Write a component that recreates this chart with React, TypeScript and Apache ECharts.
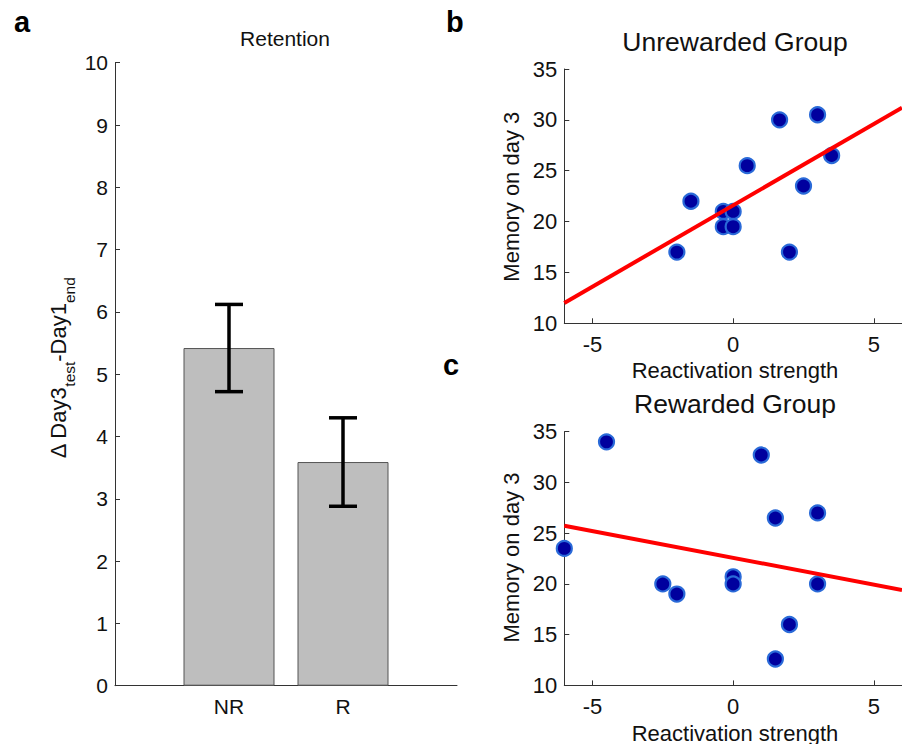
import React, { useEffect, useRef } from "react";
import * as echarts from "echarts";

// ---- Panel a: retention bars ----
const barCategories = ["NR", "R"];
const barPositions = [1, 2];
const barValues = [5.42, 3.59];
const barErrors = [0.7, 0.71];
const retentionTicks = [0, 1, 2, 3, 4, 5, 6, 7, 8, 9, 10];

// ---- Panel b: unrewarded group ----
const unrewardedX = [-2, -1.5, -0.35, -0.35, 0, 0, 0.5, 1.65, 3, 2.5, 3.5, 2];
const unrewardedY = [17, 22, 21, 19.5, 21, 19.5, 25.5, 30, 30.5, 23.5, 26.5, 17];
const unrewardedFitX = [-6, 6];
const unrewardedFitY = [12, 31.2];

// ---- Panel c: rewarded group ----
const rewardedX = [-6, -4.5, -2.5, -2, 0, 0, 1, 1.5, 3, 3, 2, 1.5];
const rewardedY = [23.5, 34, 20, 19, 20.7, 20, 32.7, 26.5, 27, 20, 16, 12.6];
const rewardedFitX = [-6, 6];
const rewardedFitY = [25.74, 19.4];

const scatterXTicks = [-5, 0, 5];

const FONT = "'Liberation Sans', Arial, Helvetica, sans-serif";
const AXIS_COLOR = "#333";

function zip(xs: number[], ys: number[]) {
  return xs.map((x, i) => [x, ys[i]]);
}

export default function App() {
  const ref = useRef<HTMLDivElement>(null);
  useEffect(() => {
    if (!ref.current) return;
    const chart = echarts.init(ref.current, undefined, { renderer: "svg" });

    const axisLineStyle = { lineStyle: { color: AXIS_COLOR, width: 1 } };

    const scatterX = (gridIndex: number) => ({
      type: "value",
      gridIndex,
      min: -6,
      max: 6,
      splitLine: { show: false },
      axisLine: { ...axisLineStyle, onZero: false },
      axisTick: { show: true, inside: true, length: 5, customValues: scatterXTicks, lineStyle: { color: AXIS_COLOR } },
      axisLabel: { customValues: scatterXTicks, fontSize: 22, color: "#111", fontFamily: FONT, margin: 10 },
    });
    const scatterY = (gridIndex: number) => ({
      type: "value",
      gridIndex,
      min: 10,
      max: 35,
      interval: 5,
      splitLine: { show: false },
      axisLine: { show: true, ...axisLineStyle, onZero: false },
      axisTick: { show: true, inside: true, length: 5, lineStyle: { color: AXIS_COLOR } },
      axisLabel: { fontSize: 22, color: "#111", fontFamily: FONT, margin: 7 },
    });

    const markerStyle = {
      color: "#00009e",
      borderColor: "#2a6ad8",
      borderWidth: 2.2,
      opacity: 1,
    };

    const option: any = {
      animation: false,
      backgroundColor: "#fff",
      grid: [
        { left: 115, top: 62.7, width: 342, height: 623 },
        { left: 564.3, top: 69, width: 342.3, height: 254.3 },
        { left: 564.3, top: 431.7, width: 342.3, height: 253.7 },
      ],
      xAxis: [
        {
          type: "value",
          gridIndex: 0,
          min: 0,
          max: 3,
          splitLine: { show: false },
          axisLine: { ...axisLineStyle, onZero: false },
          axisTick: { show: false },
          axisLabel: {
            customValues: barPositions,
            formatter: (v: number) => {
              const i = barPositions.indexOf(v);
              return i >= 0 ? barCategories[i] : "";
            },
            fontSize: 21,
            color: "#111",
            fontFamily: FONT,
            margin: 10,
          },
        },
        scatterX(1),
        scatterX(2),
      ],
      yAxis: [
        {
          type: "value",
          gridIndex: 0,
          min: retentionTicks[0],
          max: retentionTicks[retentionTicks.length - 1],
          interval: 1,
          splitLine: { show: false },
          axisLine: { show: true, ...axisLineStyle, onZero: false },
          axisTick: { show: true, inside: true, length: 5, lineStyle: { color: AXIS_COLOR } },
          axisLabel: { fontSize: 21, color: "#111", fontFamily: FONT, margin: 7 },
        },
        scatterY(1),
        scatterY(2),
      ],
      series: [
        {
          type: "bar",
          xAxisIndex: 0,
          yAxisIndex: 0,
          data: zip(barPositions, barValues),
          barWidth: 91,
          itemStyle: { color: "#bebebe", borderColor: "#555", borderWidth: 1 },
          z: 2,
        },
        {
          type: "custom",
          xAxisIndex: 0,
          yAxisIndex: 0,
          data: barPositions.map((x, i) => [x, barValues[i], barErrors[i]]),
          encode: { x: 0, y: 1 },
          z: 5,
          renderItem: (params: any, api: any) => {
            const x = api.value(0);
            const y = api.value(1);
            const e = api.value(2);
            const top = api.coord([x, y + e]);
            const bot = api.coord([x, y - e]);
            const hw = 14;
            const style = { stroke: "#000", lineWidth: 3.5 };
            return {
              type: "group",
              children: [
                { type: "line", shape: { x1: top[0], y1: top[1], x2: bot[0], y2: bot[1] }, style },
                { type: "line", shape: { x1: top[0] - hw, y1: top[1], x2: top[0] + hw, y2: top[1] }, style },
                { type: "line", shape: { x1: bot[0] - hw, y1: bot[1], x2: bot[0] + hw, y2: bot[1] }, style },
              ],
            };
          },
        },
        {
          type: "scatter",
          xAxisIndex: 1,
          yAxisIndex: 1,
          data: zip(unrewardedX, unrewardedY),
          symbolSize: 15,
          itemStyle: markerStyle,
          z: 2,
        },
        {
          type: "line",
          xAxisIndex: 1,
          yAxisIndex: 1,
          data: zip(unrewardedFitX, unrewardedFitY),
          showSymbol: false,
          symbol: "none",
          lineStyle: { color: "#ff0000", width: 4 },
          z: 4,
        },
        {
          type: "scatter",
          xAxisIndex: 2,
          yAxisIndex: 2,
          data: zip(rewardedX, rewardedY),
          symbolSize: 15,
          itemStyle: markerStyle,
          z: 2,
        },
        {
          type: "line",
          xAxisIndex: 2,
          yAxisIndex: 2,
          data: zip(rewardedFitX, rewardedFitY),
          showSymbol: false,
          symbol: "none",
          lineStyle: { color: "#ff0000", width: 4 },
          z: 4,
        },
      ],
      graphic: [
        { type: "text", left: 14, top: 7, style: { text: "a", fontSize: 29, fontWeight: "bold", fill: "#000", fontFamily: FONT } },
        { type: "text", left: 446, top: 7, style: { text: "b", fontSize: 29, fontWeight: "bold", fill: "#000", fontFamily: FONT } },
        { type: "text", left: 443, top: 350, style: { text: "c", fontSize: 29, fontWeight: "bold", fill: "#000", fontFamily: FONT } },
        { type: "text", x: 285, y: 38.5, style: { text: "Retention", fontSize: 21, fill: "#111", fontFamily: FONT, align: "center", verticalAlign: "middle" } },
        { type: "text", x: 735, y: 41.7, style: { text: "Unrewarded Group", fontSize: 26.5, fill: "#111", fontFamily: FONT, align: "center", verticalAlign: "middle" } },
        { type: "text", x: 735, y: 370, style: { text: "Reactivation strength", fontSize: 22, fill: "#111", fontFamily: FONT, align: "center", verticalAlign: "middle" } },
        { type: "text", x: 511.7, y: 196.7, rotation: Math.PI / 2, style: { text: "Memory on day 3", fontSize: 22, fill: "#111", fontFamily: FONT, align: "center", verticalAlign: "middle" } },
        { type: "text", x: 735, y: 404, style: { text: "Rewarded Group", fontSize: 26.5, fill: "#111", fontFamily: FONT, align: "center", verticalAlign: "middle" } },
        { type: "text", x: 735, y: 733, style: { text: "Reactivation strength", fontSize: 22, fill: "#111", fontFamily: FONT, align: "center", verticalAlign: "middle" } },
        { type: "text", x: 511.7, y: 557.5, rotation: Math.PI / 2, style: { text: "Memory on day 3", fontSize: 22, fill: "#111", fontFamily: FONT, align: "center", verticalAlign: "middle" } },
        {
          type: "text",
          x: 58,
          y: 368,
          rotation: Math.PI / 2,
          style: {
            text: "{m|\u0394 Day3}{s|test}{m|-Day1}{s|end}",
            fontFamily: FONT,
            fill: "#111",
            align: "center",
            verticalAlign: "middle",
            rich: {
              m: { fontSize: 22, lineHeight: 22, verticalAlign: "top", fontFamily: FONT, fill: "#111" },
              s: { fontSize: 15.5, lineHeight: 15, padding: [14, 0, 0, 0], verticalAlign: "top", fontFamily: FONT, fill: "#111" },
            },
          },
        },
      ],
    };

    chart.setOption(option);
    return () => chart.dispose();
  }, []);

  return (
    <div
      ref={ref}
      style={{ position: "fixed", left: 0, top: 0, width: 902, height: 744, background: "#fff" }}
    />
  );
}
